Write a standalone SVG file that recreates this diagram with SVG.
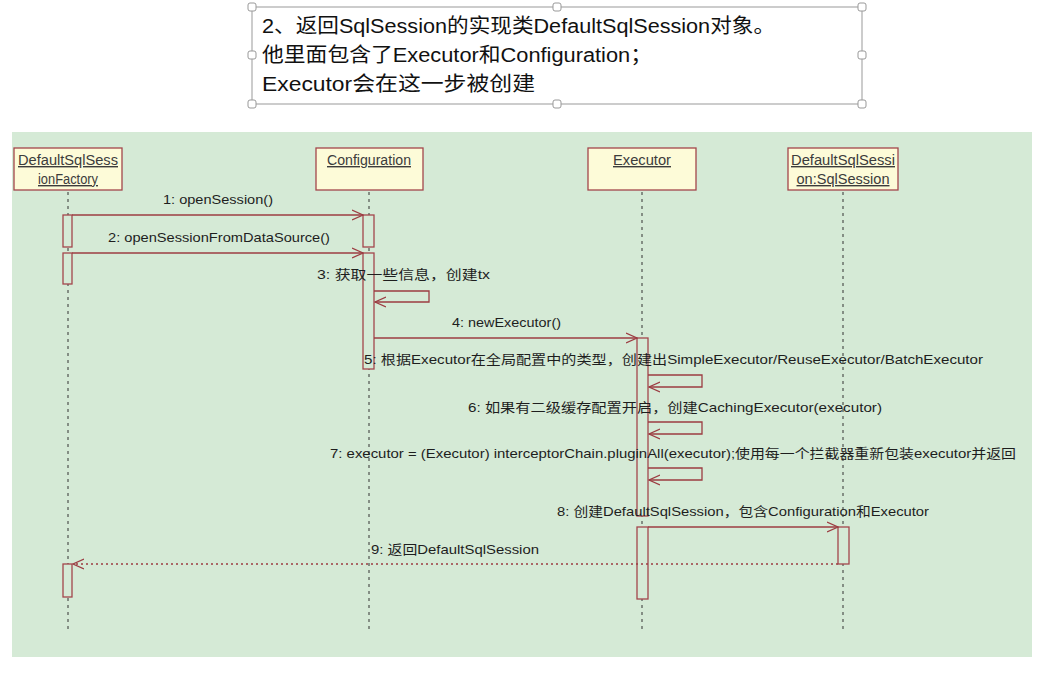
<svg xmlns="http://www.w3.org/2000/svg" width="1042" height="674" viewBox="0 0 1042 674">
<defs>
<style>
.bg{fill:#d5ead6}
.head{fill:#fdfbd8;stroke:#a4464c;stroke-width:1.3}
.ht{font-family:"Liberation Sans",Arial,sans-serif;font-size:14px;fill:#3c3c3c;text-decoration:underline;text-anchor:middle}
.life{stroke:#333;stroke-width:1;stroke-dasharray:3,4;fill:none}
.act{fill:#d5ead6;stroke:#a4464c;stroke-width:1.3}
.msg{stroke:#9c3c42;stroke-width:1.3;fill:none}
.ret{stroke:#9c3c42;stroke-width:1.3;fill:none;stroke-dasharray:2,3}
.lbl{font-family:"Liberation Sans","Noto Sans CJK SC",sans-serif;font-size:13px;fill:#1e1e1e}
.note{font-family:"Liberation Sans","Noto Sans CJK SC",sans-serif;font-size:20px;fill:#111}
.hdl{fill:#fff;stroke:#999;stroke-width:1}
</style>
<marker id="open" markerWidth="12" markerHeight="12" refX="11" refY="6" orient="auto" markerUnits="userSpaceOnUse">
<path d="M0,1 L11,6 L0,11" fill="none" stroke="#9c3c42" stroke-width="1.3"/>
</marker>
</defs>
<rect width="1042" height="674" fill="#ffffff"/>
<g id="note">
<rect x="252" y="7" width="610" height="97" fill="#fff" stroke="#999" stroke-width="1"/>
<text class="note" x="262" y="33" textLength="513" lengthAdjust="spacingAndGlyphs">2、返回SqlSession的实现类DefaultSqlSession对象。</text>
<text class="note" x="262" y="62" textLength="390" lengthAdjust="spacingAndGlyphs">他里面包含了Executor和Configuration；</text>
<text class="note" x="262" y="91" textLength="273" lengthAdjust="spacingAndGlyphs">Executor会在这一步被创建</text>
<rect class="hdl" x="248" y="3" width="8" height="8" rx="2"/>
<rect class="hdl" x="553" y="3" width="8" height="8" rx="2"/>
<rect class="hdl" x="858" y="3" width="8" height="8" rx="2"/>
<rect class="hdl" x="248" y="51" width="8" height="8" rx="2"/>
<rect class="hdl" x="858" y="51" width="8" height="8" rx="2"/>
<rect class="hdl" x="248" y="100" width="8" height="8" rx="2"/>
<rect class="hdl" x="553" y="100" width="8" height="8" rx="2"/>
<rect class="hdl" x="858" y="100" width="8" height="8" rx="2"/>
</g>
<rect class="bg" x="12" y="132" width="1020" height="525"/>
<g id="lifelines">
<line class="life" x1="68" y1="192" x2="68" y2="633"/>
<line class="life" x1="369" y1="192" x2="369" y2="633"/>
<line class="life" x1="642" y1="192" x2="642" y2="633"/>
<line class="life" x1="843" y1="192" x2="843" y2="633"/>
</g>
<g id="factory">
<rect class="head" x="14" y="148" width="108" height="42"/>
<text class="ht" x="68" y="165" textLength="100" lengthAdjust="spacingAndGlyphs">DefaultSqlSess</text>
<text class="ht" x="68" y="184" textLength="60" lengthAdjust="spacingAndGlyphs">ionFactory</text>
<rect class="act" x="63" y="215" width="9" height="32"/>
<rect class="act" x="63" y="253" width="9" height="31"/>
<rect class="act" x="63" y="564" width="9" height="33"/>
</g>
<g id="configuration">
<rect class="head" x="316" y="148" width="107" height="42"/>
<text class="ht" x="369" y="165" textLength="84" lengthAdjust="spacingAndGlyphs">Configuration</text>
<rect class="act" x="363" y="215" width="11" height="32"/>
<rect class="act" x="363" y="253" width="11" height="116"/>
</g>
<g id="executor">
<rect class="head" x="588" y="148" width="108" height="42"/>
<text class="ht" x="642" y="165" textLength="58" lengthAdjust="spacingAndGlyphs">Executor</text>
<rect class="act" x="637" y="338" width="11" height="178"/>
<rect class="act" x="637" y="527" width="11" height="72"/>
</g>
<g id="sqlsession">
<rect class="head" x="788" y="148" width="110" height="42"/>
<text class="ht" x="843" y="165" textLength="104" lengthAdjust="spacingAndGlyphs">DefaultSqlSessi</text>
<text class="ht" x="843" y="184" textLength="93" lengthAdjust="spacingAndGlyphs">on:SqlSession</text>
<rect class="act" x="838" y="527" width="11" height="37"/>
</g>
<g id="connectors">
<line class="msg" x1="72" y1="215" x2="363" y2="215" marker-end="url(#open)"/>
<line class="msg" x1="72" y1="253" x2="363" y2="253" marker-end="url(#open)"/>
<polyline class="msg" points="374,291 429,291 429,302 375,302" marker-end="url(#open)"/>
<line class="msg" x1="374" y1="338" x2="637" y2="338" marker-end="url(#open)"/>
<polyline class="msg" points="648,375 702,375 702,387 649,387" marker-end="url(#open)"/>
<polyline class="msg" points="648,422 702,422 702,434 649,434" marker-end="url(#open)"/>
<polyline class="msg" points="648,468 702,468 702,480 649,480" marker-end="url(#open)"/>
<line class="msg" x1="648" y1="527" x2="838" y2="527" marker-end="url(#open)"/>
<line class="ret" x1="838" y1="564" x2="73" y2="564" marker-end="url(#open)"/>
</g>
<g id="labels">
<text class="lbl" x="163" y="204" textLength="110" lengthAdjust="spacingAndGlyphs">1: openSession()</text>
<text class="lbl" x="108" y="242" textLength="222" lengthAdjust="spacingAndGlyphs">2: openSessionFromDataSource()</text>
<text class="lbl" x="317" y="279" textLength="173" lengthAdjust="spacingAndGlyphs">3: 获取一些信息，创建tx</text>
<text class="lbl" x="452" y="327" textLength="109" lengthAdjust="spacingAndGlyphs">4: newExecutor()</text>
<text class="lbl" x="364" y="364" textLength="619" lengthAdjust="spacingAndGlyphs">5: 根据Executor在全局配置中的类型，创建出SimpleExecutor/ReuseExecutor/BatchExecutor</text>
<text class="lbl" x="468" y="412" textLength="414" lengthAdjust="spacingAndGlyphs">6: 如果有二级缓存配置开启，创建CachingExecutor(executor)</text>
<text class="lbl" x="330" y="458" textLength="686" lengthAdjust="spacingAndGlyphs">7: executor = (Executor) interceptorChain.pluginAll(executor);使用每一个拦截器重新包装executor并返回</text>
<text class="lbl" x="557" y="516" textLength="372" lengthAdjust="spacingAndGlyphs">8: 创建DefaultSqlSession，包含Configuration和Executor</text>
<text class="lbl" x="371" y="554" textLength="168" lengthAdjust="spacingAndGlyphs">9: 返回DefaultSqlSession</text>
</g>
</svg>
